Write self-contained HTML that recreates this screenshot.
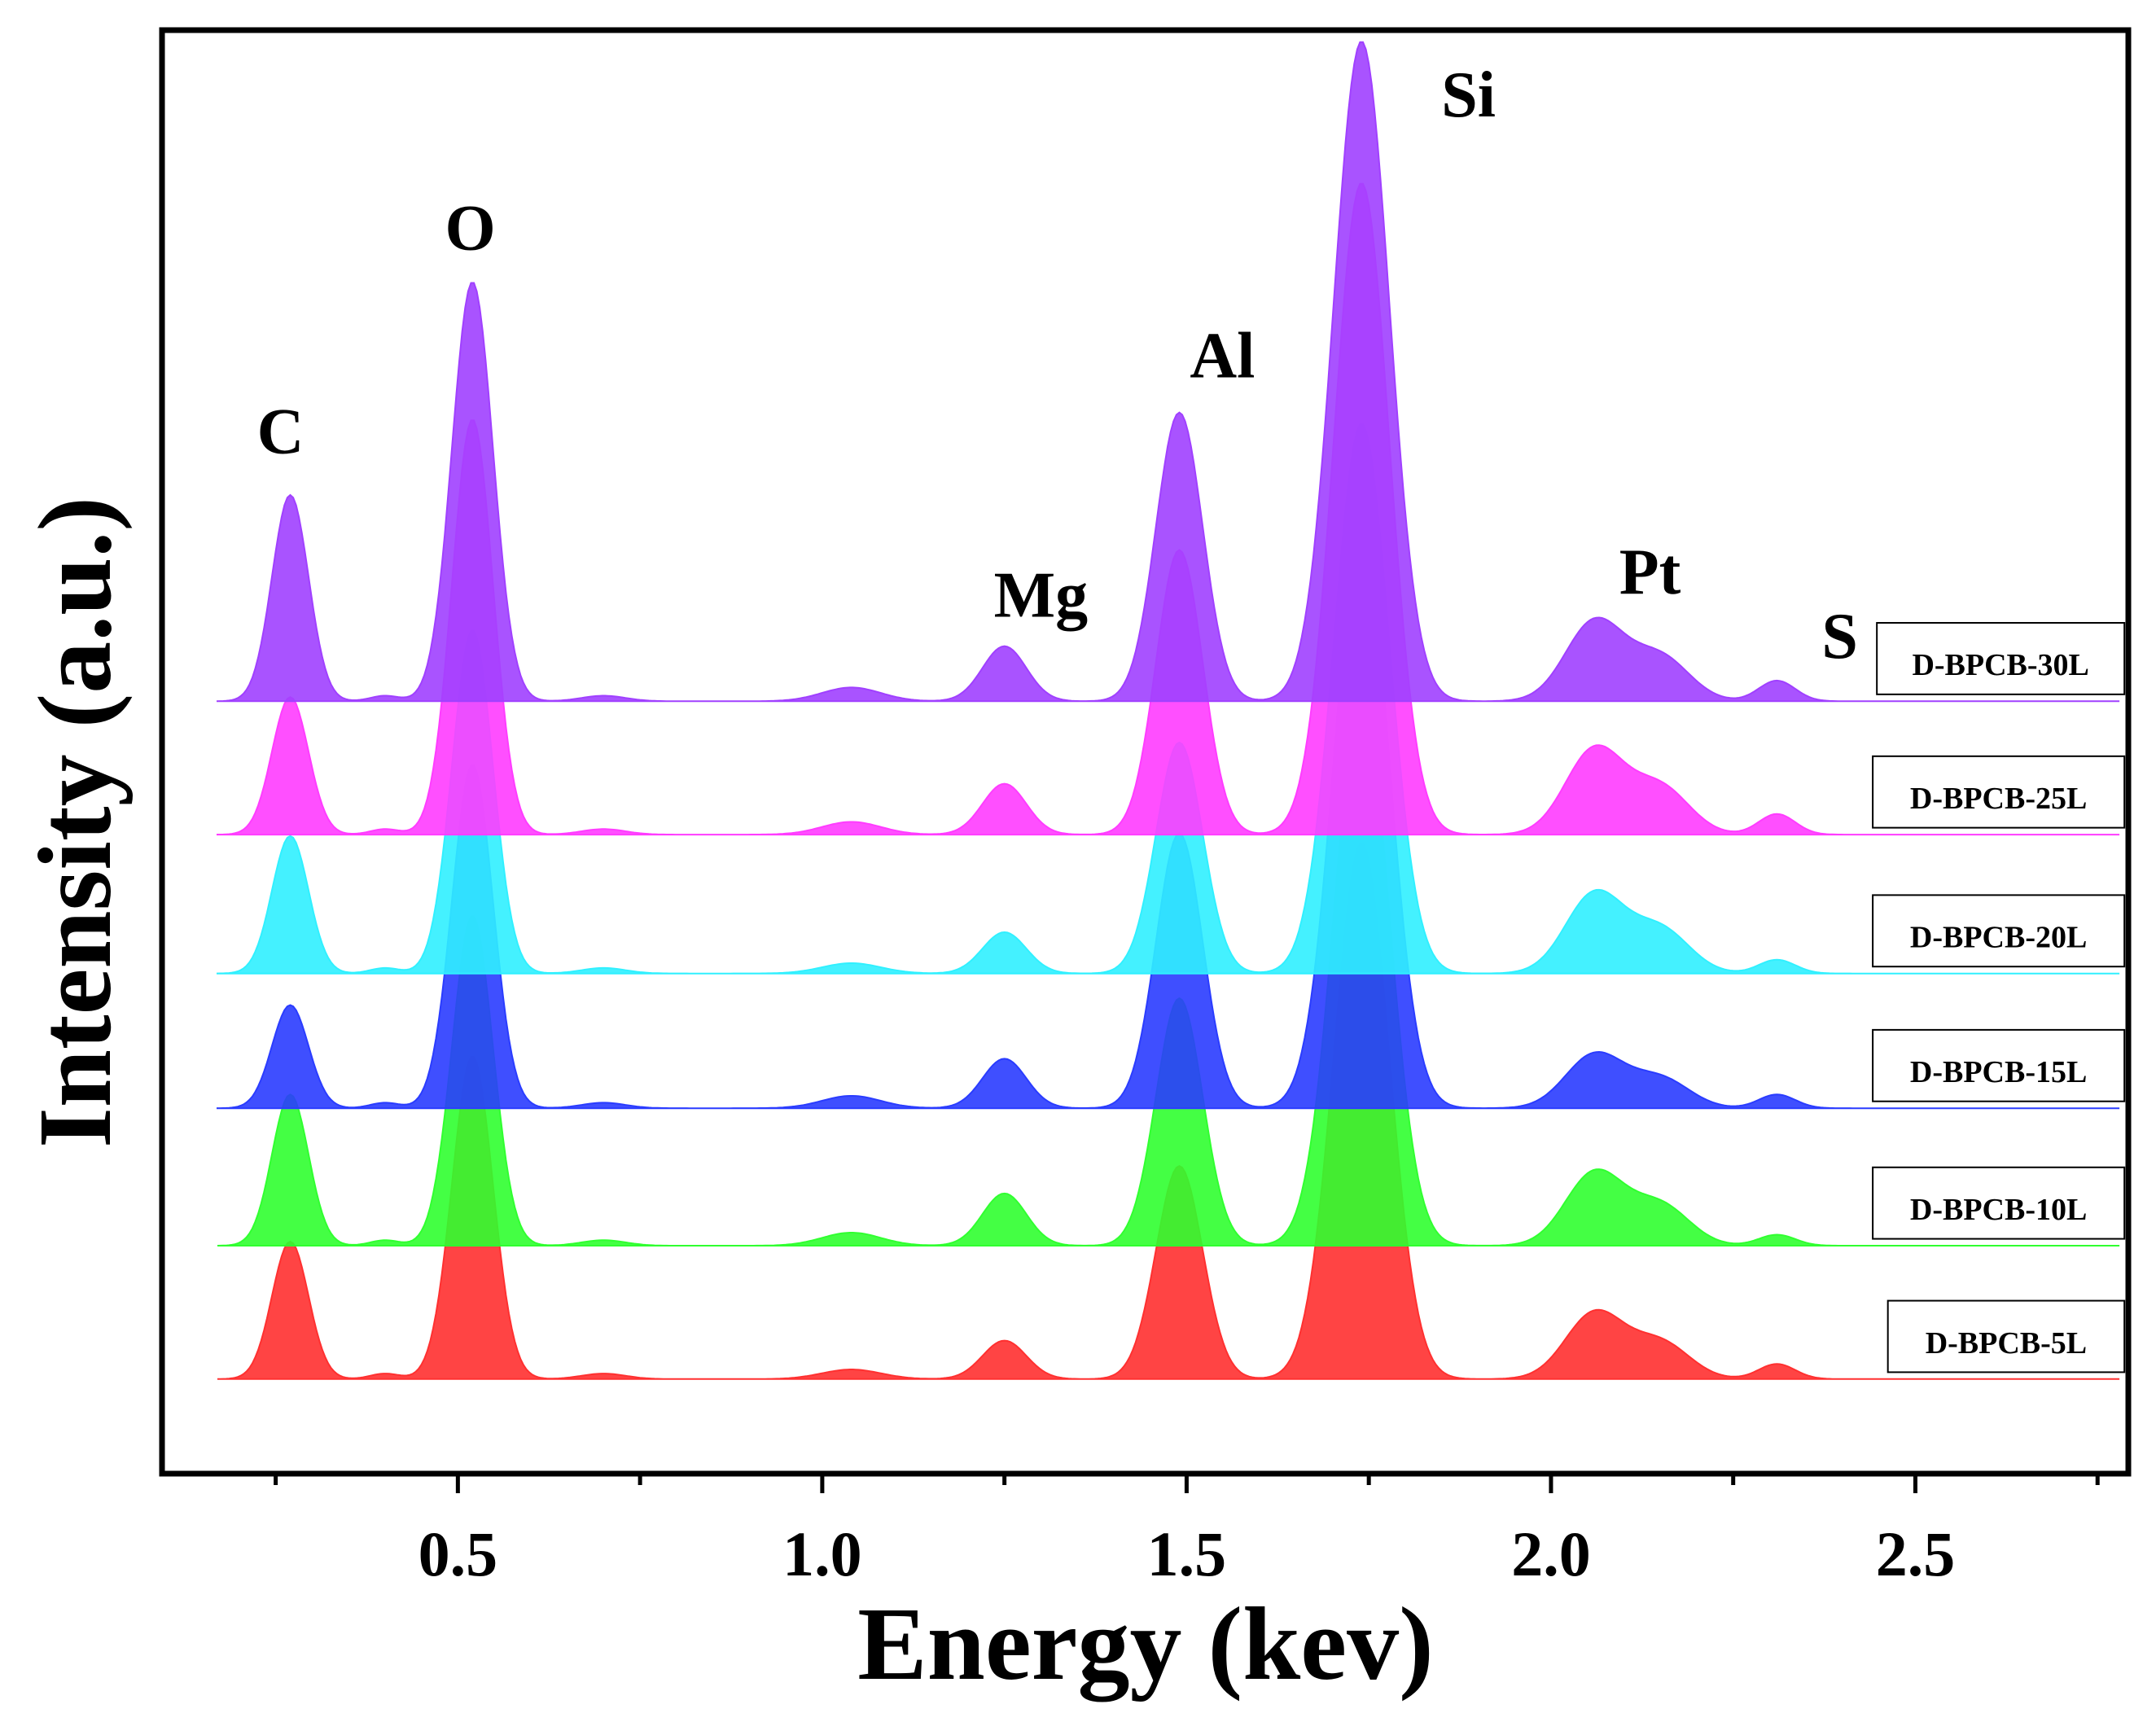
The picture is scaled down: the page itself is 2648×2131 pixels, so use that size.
<!DOCTYPE html>
<html><head><meta charset="utf-8"><style>
html,body{margin:0;padding:0;background:#fff;}
svg{display:block;}
text{font-family:"Liberation Serif",serif;font-weight:bold;}
</style></head><body>
<svg id="chart" width="2648" height="2131" viewBox="0 0 2648 2131" xmlns="http://www.w3.org/2000/svg">
<rect x="0" y="0" width="2648" height="2131" fill="#fff"/>
<g id="series"></g>
<g id="labels"></g>
<g id="legend"></g>
<g id="axes"></g>
<rect x="199" y="37" width="2415" height="1773" fill="none" stroke="#000" stroke-width="7"/>
<text x="1407" y="2062" font-size="128" text-anchor="middle">Energy (kev)</text>
<text transform="translate(135,1010) rotate(-90)" font-size="128" text-anchor="middle">Intensity (a.u.)</text>
</svg>
<script>
const NS='http://www.w3.org/2000/svg';
// data
const seriesNames=['D-BPCB-30L','D-BPCB-25L','D-BPCB-20L','D-BPCB-15L','D-BPCB-10L','D-BPCB-5L'];
const seriesColors=['#a040ff','#ff3cff','#30f0ff','#2a3cff','#30ff30','#ff3030'];
const baselines=[510,607,708,806,906,1003];
const peakNames=['C','O','Mg','Al','Si','Pt','S'];
const peakEnergies=[0.27,0.52,1.25,1.49,1.74,2.06,2.31];
const peakC=[150,100,100,75,110,100];
const peakO=[305,302,250,250,240,235];
const peakMg=[40,37,30,36,38,28];
const peakAl=[210,207,168,200,180,155];
const peakSi=[480,474,400,420,400,390];
const peakPt=[58,62,58,39,53,48];
const peakS=[15,15,10,10,8,11];
const xTicks=[0.5,1.0,1.5,2.0,2.5];
const xTickLabels=['0.5','1.0','1.5','2.0','2.5'];
const labelPos=[[204,313],[342,165],[757,432],[889,258],[1068,68],[1200,415],[1338,462]];

const S=2648/1568;
function xs(e){return (68+e*530)*S;}
function ys(base,h){return (base-h)*S;}
const widths=[0.025,0.028,0.03,0.032,0.038,0.04,0.025];
function gauss(e,c,w){return Math.exp(-0.5*((e-c)/w)**2);}
const sg=document.getElementById('series');
for(let i=seriesNames.length-1;i>=0;i--){
  const hs=[peakC[i],peakO[i],peakMg[i],peakAl[i],peakSi[i],peakPt[i],peakS[i]];
  let d='';
  const e0=0.17,e1=2.78;
  d+='M'+xs(e0).toFixed(1)+','+ys(baselines[i],0).toFixed(1);
  for(let e=e0;e<=e1;e+=0.004){
    let h=0;
    for(let k=0;k<hs.length;k++){
      if(k===5){h+=hs[k]*gauss(e,2.06,0.04)+hs[k]*0.55*gauss(e,2.15,0.04);}
      else h+=hs[k]*gauss(e,peakEnergies[k],widths[k]);
    }
    h+=4*gauss(e,0.4,0.02)+4*gauss(e,0.7,0.03)+hs[2]*0.25*gauss(e,1.04,0.04);
    d+=' L'+xs(e).toFixed(1)+','+ys(baselines[i],h).toFixed(1);
  }
  d+=' L'+xs(e1).toFixed(1)+','+ys(baselines[i],0).toFixed(1)+' Z';
  const p=document.createElementNS(NS,'path');
  p.setAttribute('d',d);p.setAttribute('fill',seriesColors[i]);p.setAttribute('fill-opacity','0.9');
  p.setAttribute('stroke',seriesColors[i]);p.setAttribute('stroke-width','2');
  
  
  sg.appendChild(p);
}
const lg=document.getElementById('labels');
for(let k=0;k<peakNames.length;k++){
  const t=document.createElementNS(NS,'text');
  t.setAttribute('x',labelPos[k][0]*S);t.setAttribute('y',labelPos[k][1]*S+28);
  t.setAttribute('font-size','80');t.setAttribute('text-anchor','middle');
  t.textContent=peakNames[k];
  
  
  lg.appendChild(t);
}
const leg=document.getElementById('legend');
const boxLeft=[1365,1362,1362,1362,1362,1373];
for(let i=0;i<seriesNames.length;i++){
  const top=baselines[i]-57;
  const r=document.createElementNS(NS,'rect');
  r.setAttribute('x',boxLeft[i]*S);r.setAttribute('y',top*S);
  r.setAttribute('width',(1545-boxLeft[i])*S);r.setAttribute('height',52*S);
  r.setAttribute('fill','#fff');r.setAttribute('stroke','#000');r.setAttribute('stroke-width','2');
  
  
  leg.appendChild(r);
  const t=document.createElementNS(NS,'text');
  t.setAttribute('x',((boxLeft[i]+1545)/2)*S);t.setAttribute('y',(top+38)*S);
  t.setAttribute('font-size','38');t.setAttribute('text-anchor','middle');
  t.textContent=seriesNames[i];
  
  
  leg.appendChild(t);
}
const ax=document.getElementById('axes');
for(let v=0.25;v<=2.75;v+=0.25){
  const major=Math.abs(v*2-Math.round(v*2))<1e-6;
  const l=document.createElementNS(NS,'line');
  l.setAttribute('x1',xs(v));l.setAttribute('x2',xs(v));
  l.setAttribute('y1',1810);l.setAttribute('y2',major?1834:1824);
  l.setAttribute('stroke','#000');l.setAttribute('stroke-width','5');
  
  
  ax.appendChild(l);
}
for(let j=0;j<xTicks.length;j++){
  const t=document.createElementNS(NS,'text');
  t.setAttribute('x',xs(xTicks[j]));t.setAttribute('y',1935);
  t.setAttribute('font-size','78');t.setAttribute('text-anchor','middle');
  t.setAttribute('font-family','Liberation Sans, sans-serif');
  t.textContent=xTickLabels[j];
  
  
  ax.appendChild(t);
}
</script>
</body></html>
